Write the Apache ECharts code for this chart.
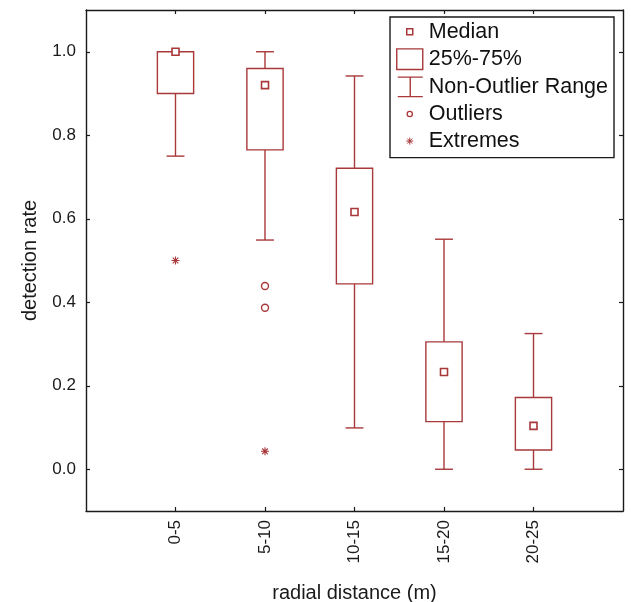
<!DOCTYPE html>
<html>
<head>
<meta charset="utf-8">
<script src="https://cdn.jsdelivr.net/npm/echarts@6/dist/echarts.min.js"></script>
<style>
html,body{margin:0;padding:0;background:#fff;}
#chart{width:631px;height:602px;}
</style>
</head>
<body>
<div id="chart"></div>
<script>
// ---- data ----
const categories = ['0-5', '5-10', '10-15', '15-20', '20-25'];
const medians    = [1.0, 0.92, 0.616, 0.233, 0.104];
const q1         = [0.90, 0.765, 0.444, 0.114, 0.046];
const q3         = [1.0, 0.96, 0.721, 0.305, 0.172];
const whiskerLow = [0.75, 0.549, 0.099, 0.0, 0.0];
const whiskerHigh= [1.0, 1.0, 0.942, 0.551, 0.325];
const outliers   = [['5-10', 0.439], ['5-10', 0.387]];
const extremes   = [['0-5', 0.50], ['5-10', 0.043]];
const yTicks     = [0.0, 0.2, 0.4, 0.6, 0.8, 1.0];

const RED = '#a8383a';
const AXIS = '#1a1a1a';
const FONT = 'Liberation Sans, Arial, sans-serif';

const xPos = categories.map((c, i) => i + 1);
const catIndex = c => categories.indexOf(c) + 1;

const boxData = categories.map((c, i) => [xPos[i], q1[i], q3[i]]);
const whiskerData = categories.map((c, i) => [xPos[i], whiskerLow[i], q1[i], q3[i], whiskerHigh[i]]);
const medianData = categories.map((c, i) => [xPos[i], medians[i]]);
const outlierData = outliers.map(o => [catIndex(o[0]), o[1]]);
const extremeData = extremes.map(o => [catIndex(o[0]), o[1]]);

const STAR = 'path://M4,0V8M0,4H8M1.2,1.2L6.8,6.8M6.8,1.2L1.2,6.8';

const chart = echarts.init(document.getElementById('chart'), null, {renderer: 'canvas'});

const xCommon = {
  type: 'value', min: 0, max: 6,
  splitLine: {show: false},
  axisLine: {show: true, onZero: false, lineStyle: {color: AXIS, width: 1.4}},
  axisTick: {show: true, inside: true, length: 4, customValues: xPos, lineStyle: {color: AXIS, width: 1.2}}
};
const yCommon = {
  type: 'value', min: -0.1, max: 1.1,
  splitLine: {show: false},
  axisLine: {show: true, onZero: false, lineStyle: {color: AXIS, width: 1.4}},
  axisTick: {show: true, inside: true, length: 4, customValues: yTicks, lineStyle: {color: AXIS, width: 1.2}}
};

const option = {
  backgroundColor: '#fff',
  animation: false,
  grid: {left: 86, right: 8, top: 10, bottom: 91, containLabel: false, outerBoundsMode: 'none'},
  xAxis: [
    Object.assign({}, xCommon, {
      position: 'bottom',
      name: 'radial distance (m)', nameLocation: 'middle', nameGap: 72,
      nameTextStyle: {fontSize: 20, color: '#1a1a1a', fontFamily: FONT},
      axisLabel: {show: true, rotate: 90, margin: 9, fontSize: 17, color: '#1a1a1a', fontFamily: FONT,
        customValues: xPos, formatter: v => categories[Math.round(v) - 1] || ''}
    }),
    Object.assign({}, xCommon, {position: 'top', axisLabel: {show: false}})
  ],
  yAxis: [
    Object.assign({}, yCommon, {
      position: 'left',
      name: 'detection rate', nameLocation: 'middle', nameGap: 46,
      nameTextStyle: {fontSize: 20, color: '#1a1a1a', fontFamily: FONT},
      axisLabel: {show: true, margin: 10, fontSize: 17, color: '#1a1a1a', fontFamily: FONT,
        customValues: yTicks, formatter: v => v.toFixed(1)}
    }),
    Object.assign({}, yCommon, {position: 'right', axisLabel: {show: false}})
  ],
  legend: {
    left: 390, top: 17, orient: 'vertical',
    backgroundColor: '#fff', borderColor: AXIS, borderWidth: 1.4, borderRadius: 0,
    padding: [3, 6, 5, 5],
    itemWidth: 28, itemHeight: 22, itemGap: 4, itemTextGap: 10,
    selectedMode: false,
    textStyle: {fontSize: 21.5, color: '#111', fontFamily: FONT, lineHeight: 22},
    data: [
      {name: 'Median', icon: 'path://M0,0M28,22M11,8h6v6h-6z',
        itemStyle: {color: '#fff', borderColor: RED, borderWidth: 1.5}},
      {name: '25%-75%', icon: 'path://M0,0M28,22M1,0.7h26v20.6h-26z',
        itemStyle: {color: '#fff', borderColor: RED, borderWidth: 1.4}},
      {name: 'Non-Outlier Range', icon: 'path://M0,0M28,22M2,1.5H27M14.5,1.5V21M2,21H27',
        itemStyle: {color: 'transparent', borderColor: RED, borderWidth: 1.4}},
      {name: 'Outliers', icon: 'path://M0,0M28,22M16.6,11A2.6,2.6,0,1,1,11.4,11A2.6,2.6,0,1,1,16.6,11z',
        itemStyle: {color: '#fff', borderColor: RED, borderWidth: 1.3}},
      {name: 'Extremes', icon: 'path://M0,0M28,22M14,7.5V14.5M10.5,11H17.5M11.5,8.5L16.5,13.5M16.5,8.5L11.5,13.5',
        itemStyle: {color: 'transparent', borderColor: RED, borderWidth: 1}}
    ]
  },
  series: [
    {
      name: 'Non-Outlier Range', type: 'custom', xAxisIndex: 0, yAxisIndex: 0,
      data: whiskerData, z: 2,
      encode: {x: 0, y: [1, 2, 3, 4]},
      renderItem: function (params, api) {
        const x = api.value(0);
        const band = api.size([1, 0])[0];
        const cw = band * 0.2;
        const pLow = api.coord([x, api.value(1)]);
        const pQ1 = api.coord([x, api.value(2)]);
        const pQ3 = api.coord([x, api.value(3)]);
        const pHigh = api.coord([x, api.value(4)]);
        const st = {stroke: RED, lineWidth: 1.4, fill: null};
        const children = [];
        if (pLow[1] - pQ1[1] > 0.5) {
          children.push({type: 'line', shape: {x1: pQ1[0], y1: pQ1[1], x2: pLow[0], y2: pLow[1]}, style: st});
          children.push({type: 'line', shape: {x1: pLow[0] - cw / 2, y1: pLow[1], x2: pLow[0] + cw / 2, y2: pLow[1]}, style: st});
        }
        if (pQ3[1] - pHigh[1] > 0.5) {
          children.push({type: 'line', shape: {x1: pQ3[0], y1: pQ3[1], x2: pHigh[0], y2: pHigh[1]}, style: st});
          children.push({type: 'line', shape: {x1: pHigh[0] - cw / 2, y1: pHigh[1], x2: pHigh[0] + cw / 2, y2: pHigh[1]}, style: st});
        }
        return {type: 'group', children: children};
      }
    },
    {
      name: '25%-75%', type: 'custom', xAxisIndex: 0, yAxisIndex: 0,
      data: boxData, z: 3,
      encode: {x: 0, y: [1, 2]},
      renderItem: function (params, api) {
        const x = api.value(0);
        const band = api.size([1, 0])[0];
        const w = band * 0.405;
        const pTop = api.coord([x, api.value(2)]);
        const pBot = api.coord([x, api.value(1)]);
        return {type: 'rect',
          shape: {x: pTop[0] - w / 2, y: pTop[1], width: w, height: pBot[1] - pTop[1]},
          style: {fill: '#fff', stroke: RED, lineWidth: 1.4}};
      }
    },
    {
      name: 'Median', type: 'scatter', xAxisIndex: 0, yAxisIndex: 0,
      data: medianData, z: 4,
      symbol: 'rect', symbolSize: 7,
      itemStyle: {color: '#fff', borderColor: RED, borderWidth: 1.6, opacity: 1}
    },
    {
      name: 'Outliers', type: 'scatter', xAxisIndex: 0, yAxisIndex: 0,
      data: outlierData, z: 4,
      symbol: 'circle', symbolSize: 7,
      itemStyle: {color: '#fff', borderColor: RED, borderWidth: 1.4, opacity: 1}
    },
    {
      name: 'Extremes', type: 'scatter', xAxisIndex: 0, yAxisIndex: 0,
      data: extremeData, z: 4,
      symbol: STAR, symbolSize: 8,
      itemStyle: {color: 'transparent', borderColor: RED, borderWidth: 1.1, opacity: 1}
    }
  ]
};
chart.setOption(option);
</script>
</body>
</html>
